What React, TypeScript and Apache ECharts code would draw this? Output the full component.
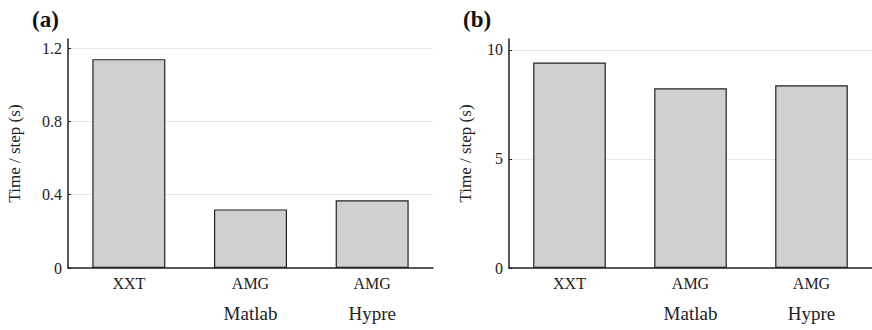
import React, { useEffect, useRef } from "react";
import * as echarts from "echarts";

const categories = ["XXT", "AMG\nMatlab", "AMG\nHypre"];
const valuesA = [1.14, 0.32, 0.37];
const valuesB = [9.42, 8.24, 8.38];
const panelTitles = ["(a)", "(b)"];
const yAxisName = "Time / step (s)";

const FONT = "Liberation Serif";

function labelFormatter(v: string) {
  const parts = v.split("\n");
  if (parts.length === 1) return `{a|${parts[0]}}`;
  return `{a|${parts[0]}}\n{b|${parts[1]}}`;
}

const rich = {
  a: { fontFamily: FONT, fontSize: 16, lineHeight: 20, color: "#222" },
  b: { fontFamily: FONT, fontSize: 19, lineHeight: 40, color: "#222" },
};

function xAxisFor(gridIndex: number) {
  return {
    type: "category",
    gridIndex,
    data: categories,
    axisLine: { lineStyle: { color: "#222", width: 1.5 } },
    axisTick: { show: false },
    axisLabel: { formatter: labelFormatter, rich, margin: 5 },
  };
}

function yAxisFor(gridIndex: number, max: number, interval: number, nameGap: number) {
  return {
    type: "value",
    gridIndex,
    min: 0,
    max,
    interval,
    name: yAxisName,
    nameLocation: "middle",
    nameGap,
    nameTextStyle: { fontFamily: FONT, fontSize: 17, color: "#222" },
    axisLine: { show: true, lineStyle: { color: "#222", width: 1.5 } },
    axisTick: { show: true, inside: true, length: 3, lineStyle: { color: "#222" } },
    axisLabel: {
      fontFamily: FONT,
      fontSize: 16,
      color: "#222",
      margin: 6,
      showMaxLabel: false,
    },
    splitLine: { show: true, showMaxLine: false, showMinLine: false, lineStyle: { color: "#e6e6e6", width: 1 } },
  };
}

const barStyle = {
  color: "#cfd1cf",
  borderColor: "#222",
  borderWidth: 1.2,
};

export default function App() {
  const ref = useRef<HTMLDivElement>(null);
  useEffect(() => {
    if (!ref.current) return;
    const chart = echarts.init(ref.current, null, { renderer: "svg" });
    chart.setOption({
      animation: false,
      backgroundColor: "#fff",
      title: [
        {
          text: panelTitles[0],
          left: 27,
          top: 3,
          textStyle: { fontFamily: FONT, fontWeight: "bold", fontSize: 23, color: "#111" },
        },
        {
          text: panelTitles[1],
          left: 458,
          top: 3,
          textStyle: { fontFamily: FONT, fontWeight: "bold", fontSize: 23, color: "#111" },
        },
      ],
      grid: [
        { left: 68, width: 365, top: 39, bottom: 62 },
        { left: 509, width: 364, top: 39, bottom: 62 },
      ],
      xAxis: [xAxisFor(0), xAxisFor(1)],
      yAxis: [yAxisFor(0, 1.25, 0.4, 45), yAxisFor(1, 10.5, 5, 35)],
      series: [
        {
          type: "bar",
          xAxisIndex: 0,
          yAxisIndex: 0,
          data: valuesA,
          barCategoryGap: "40%",
          itemStyle: barStyle,
        },
        {
          type: "bar",
          xAxisIndex: 1,
          yAxisIndex: 1,
          data: valuesB,
          barCategoryGap: "40%",
          itemStyle: barStyle,
        },
      ],
    });
    return () => chart.dispose();
  }, []);
  return (
    <div
      ref={ref}
      style={{ position: "absolute", left: 0, top: 0, width: 872, height: 330 }}
    />
  );
}
